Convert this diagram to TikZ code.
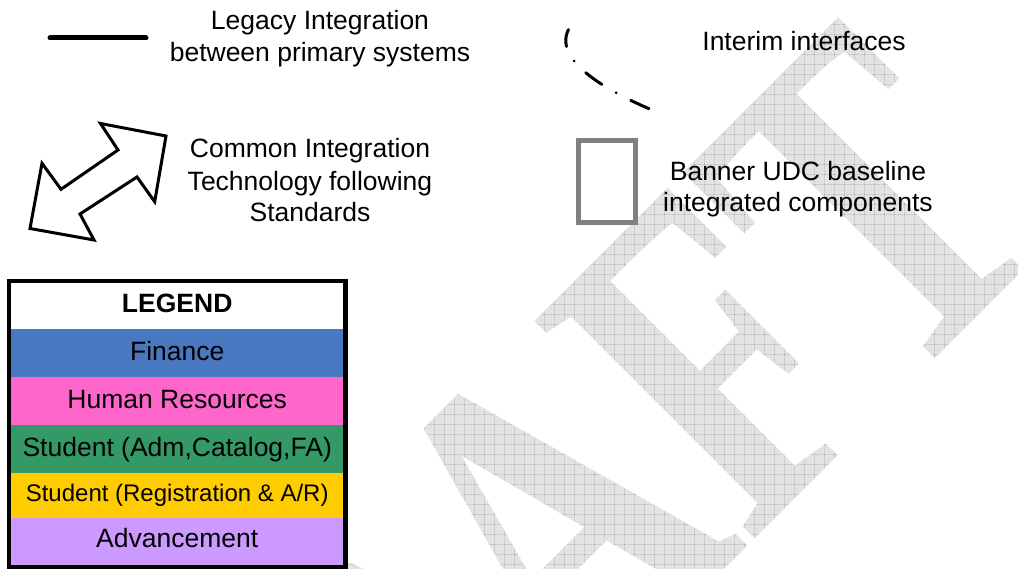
\documentclass[tikz,border=0pt]{standalone}
\usepackage{fontspec}
\setmainfont{Liberation Sans}
\newfontfamily\wmfont{Liberation Serif}
\definecolor{finblue}{RGB}{71,120,192}
\definecolor{hrpink}{RGB}{255,102,204}
\definecolor{stgreen}{RGB}{51,153,102}
\definecolor{styellow}{RGB}{255,204,0}
\definecolor{advpurple}{RGB}{204,153,255}
\definecolor{wmfill}{gray}{0.89}
\definecolor{wmgrid}{gray}{0.56}
\definecolor{udcgray}{RGB}{128,128,128}
\begin{document}
\begin{tikzpicture}[x=1pt,y=-1pt,
  lbl/.style={font=\fontsize{26.5}{32}\selectfont, inner sep=0pt, anchor=base},
  wm/.style={font=\wmfont\bfseries\fontsize{345}{345}\selectfont, text=wmfill,
             inner sep=0pt, anchor=base west, rotate=45, yscale=1.37, transform shape},
  legacyline/.style={line width=5pt, line cap=round},
  interimline/.style={line width=3pt, line cap=round,
             dash pattern=on 20pt off 16.5pt on 0pt off 16.5pt, dash phase=2.5pt},
  dblarrow/.style={line width=3pt, line join=miter, fill=white},
  udcbox/.style={draw=udcgray, line width=5pt}]
\useasboundingbox (0,0) rectangle (1018,569);
\fill[white] (0,0) rectangle (1018,569);

% DRAFT watermark with a hatched fill
\begin{scope}
  \clip (0,0) rectangle (1018,569);
  \begin{scope}[shift={(220.7,1073.3)}]
    \node[wm] (draft) at (0,0) {DRAFT};
  \end{scope}
  \begin{scope}[blend mode=color burn]
    \foreach \gx in {0,10,...,1010} \draw[wmgrid, line width=0.8pt] (\gx+4,0) -- (\gx+4,569);
    \foreach \gy in {0,10,...,560} \draw[wmgrid, line width=0.8pt] (0,\gy+4) -- (1018,\gy+4);
  \end{scope}
\end{scope}

% legacy integration sample line
\coordinate (la) at (50,38);
\coordinate (lb) at (146,38);
\draw[legacyline] (la) -- (lb);
\node[lbl] (legacy1) at (320,29.5) {Legacy Integration};
\node[lbl] (legacy2) at (320,61.5) {between primary systems};

% interim interface sample arc
\coordinate (ia) at (568.5,29.5);
\coordinate (ib) at (649,108.7);
\draw[interimline] (ia) .. controls (552,62) and (614,93.7) .. (ib);
\node[lbl] (interim) at (804,50.5) {Interim interfaces};

% common integration double arrow
\draw[dblarrow] (166,136) -- (100.5,123.5) -- (118,150) -- (61,189.3) -- (42,163.3)
  -- (30,228.5) -- (94,240) -- (80,214) -- (137,177) -- (154.7,201.7) -- cycle;
\node[lbl] (common1) at (310,158) {Common Integration};
\node[lbl] (common2) at (310,190.5) {Technology following};
\node[lbl] (common3) at (310,221.5) {Standards};

% Banner UDC baseline box
\draw[udcbox] (578.5,140.5) rectangle (635.5,222.5);
\node[lbl] (banner1) at (798,181) {Banner UDC baseline};
\node[lbl] (banner2) at (798,212) {integrated components};

% legend table
\fill[white]     (8.8,281.3) rectangle (345.5,329.3);
\fill[finblue]   (8.8,329.3) rectangle (345.5,377.3);
\fill[hrpink]    (8.8,377.3) rectangle (345.5,425);
\fill[stgreen]   (8.8,425)   rectangle (345.5,472.7);
\fill[styellow]  (8.8,472.7) rectangle (345.5,518.3);
\fill[advpurple] (8.8,518.3) rectangle (345.5,567);
\draw[line width=4.3pt] (8.8,281.3) rectangle (345.5,567);
\node[lbl, font=\fontsize{26.5}{32}\selectfont\bfseries] (lghead) at (177.2,313) {LEGEND};
\node[lbl] (lgfin) at (177.2,361) {Finance};
\node[lbl] (lghr) at (177.2,408.5) {Human Resources};
\node[lbl] (lgstu1) at (177.2,456) {Student (Adm,Catalog,FA)};
\node[lbl, font=\fontsize{24}{28}\selectfont] (lgstu2) at (177.2,501) {Student (Registration \& A/R)};
\node[lbl] (lgadv) at (177.2,547.5) {Advancement};
\end{tikzpicture}
\end{document}
